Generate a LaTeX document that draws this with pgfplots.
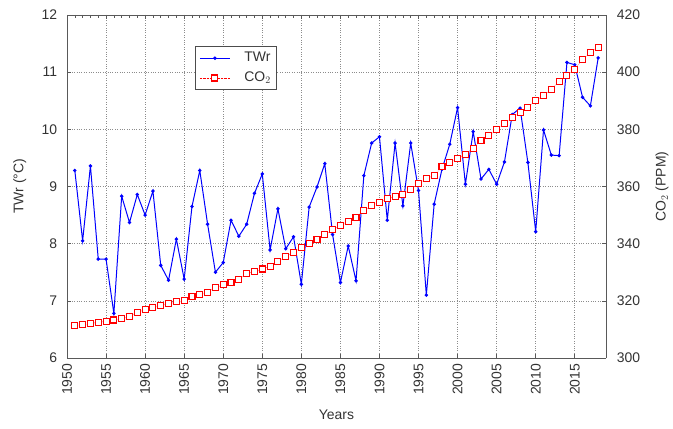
\documentclass[border=0pt]{standalone}
\usepackage{pgfplots}
\pgfplotsset{compat=1.18}
\usepackage{fontspec}
\setmainfont{Liberation Sans}
\definecolor{tblue}{RGB}{0,0,255}
\definecolor{tred}{RGB}{255,0,0}
\begin{document}
\fontsize{14}{16}\selectfont
\begin{tikzpicture}[x=1bp,y=1bp]
\useasboundingbox (-67bp,-71bp) rectangle (606bp,358bp);
\pgfplotsset{
  every axis/.append style={
    scale only axis, width=539bp, height=343bp,
    xmin=1950, xmax=2019,
    /pgf/number format/assume math mode=true,
    /pgf/number format/1000 sep={},
    tick label style={font=\fontsize{14}{16}\selectfont, color=black!80},
    label style={font=\fontsize{14}{16}\selectfont, color=black!80},
    axis line style={color=black!65, line width=0.8pt},
    tick style={color=black!65, line width=0.6pt},
    major tick length=4bp, minor tick length=3bp,
    tick align=inside,
  }
}
\begin{axis}[
  at={(0,0)}, anchor=south west,
  ymin=6, ymax=12,
  ytick={6,7,...,12},
  xtick={1950,1955,...,2015},
  xticklabel style={rotate=90, anchor=east, xshift=-1bp},
  yticklabel style={xshift=-5bp},
  axis y line*=left, axis x line*=bottom,
  grid=major,
  major grid style={dotted, color=black!45, line width=0.6pt},
  xlabel={Years}, ylabel={TWr (°C)},
  ylabel style={yshift=6bp},
  xlabel style={yshift=-6bp},
]
\addplot[tblue, line width=1pt, mark=*, mark size=1.2pt] coordinates {
(1951,9.28)(1952,8.05)(1953,9.36)(1954,7.73)(1955,7.73)(1956,6.78)(1957,8.83)(1958,8.37)(1959,8.86)(1960,8.50)
(1961,8.92)(1962,7.62)(1963,7.36)(1964,8.08)(1965,7.38)(1966,8.65)(1967,9.28)(1968,8.34)(1969,7.50)(1970,7.67)
(1971,8.41)(1972,8.13)(1973,8.34)(1974,8.88)(1975,9.22)(1976,7.89)(1977,8.61)(1978,7.91)(1979,8.12)(1980,7.29)
(1981,8.64)(1982,8.99)(1983,9.40)(1984,8.16)(1985,7.32)(1986,7.96)(1987,7.35)(1988,9.19)(1989,9.76)(1990,9.87)
(1991,8.41)(1992,9.76)(1993,8.66)(1994,9.76)(1995,8.93)(1996,7.10)(1997,8.69)(1998,9.30)(1999,9.74)(2000,10.38)
(2001,9.04)(2002,9.96)(2003,9.13)(2004,9.30)(2005,9.04)(2006,9.43)(2007,10.26)(2008,10.37)(2009,9.42)(2010,8.21)
(2011,9.99)(2012,9.55)(2013,9.54)(2014,11.17)(2015,11.13)(2016,10.56)(2017,10.41)(2018,11.25)
};
\end{axis}
\begin{axis}[
  at={(0,0)}, anchor=south west,
  ymin=300, ymax=420,
  ytick={300,320,...,420},
  yticklabel style={xshift=6bp},
  axis y line*=right, axis x line*=top,
  xtick={1950,1955,...,2015}, xticklabels={},
  minor xtick={1951,1952,...,2018},
  ylabel={CO$_2$ (PPM)},
  ylabel style={yshift=-6bp},
  legend style={at={(0.2375,0.9096)}, anchor=north west, draw=black!70, line width=0.8pt,
    font=\fontsize{14}{16}\selectfont, text=black!80, inner xsep=4bp, inner ysep=4bp, row sep=4bp,
    /tikz/every odd column/.append style={column sep=12bp}},
  legend cell align=left,
  legend image code/.code={\draw[mark repeat=2,mark phase=2,#1] plot coordinates {(6bp,0bp) (21bp,0bp) (36bp,0bp)};},
]
\addlegendimage{tblue, line width=1pt, mark=*, mark size=1.2pt}
\addlegendentry{TWr}
\addplot[tred, densely dotted, line width=0.4pt, mark=square*, mark size=3bp,
  mark options={solid, line width=1.1pt, fill=white}] coordinates {
(1951,311.3)(1952,311.7)(1953,312.1)(1954,312.5)(1955,312.8)(1956,313.3)(1957,313.8)(1958,314.6)(1959,315.98)(1960,316.91)
(1961,317.64)(1962,318.45)(1963,318.99)(1964,319.62)(1965,320.04)(1966,321.37)(1967,322.18)(1968,323.05)(1969,324.62)(1970,325.68)
(1971,326.32)(1972,327.46)(1973,329.68)(1974,330.19)(1975,331.12)(1976,332.03)(1977,333.84)(1978,335.41)(1979,336.84)(1980,338.76)
(1981,340.12)(1982,341.48)(1983,343.15)(1984,344.85)(1985,346.35)(1986,347.61)(1987,349.31)(1988,351.69)(1989,353.20)(1990,354.45)
(1991,355.70)(1992,356.54)(1993,357.21)(1994,358.96)(1995,360.97)(1996,362.74)(1997,363.88)(1998,366.84)(1999,368.54)(2000,369.71)
(2001,371.32)(2002,373.45)(2003,375.98)(2004,377.70)(2005,379.98)(2006,382.09)(2007,384.02)(2008,385.83)(2009,387.64)(2010,390.10)
(2011,391.85)(2012,394.06)(2013,396.74)(2014,398.81)(2015,401.01)(2016,404.41)(2017,406.76)(2018,408.72)
};
\addlegendentry{CO$_2$}
\end{axis}
\end{tikzpicture}
\end{document}
